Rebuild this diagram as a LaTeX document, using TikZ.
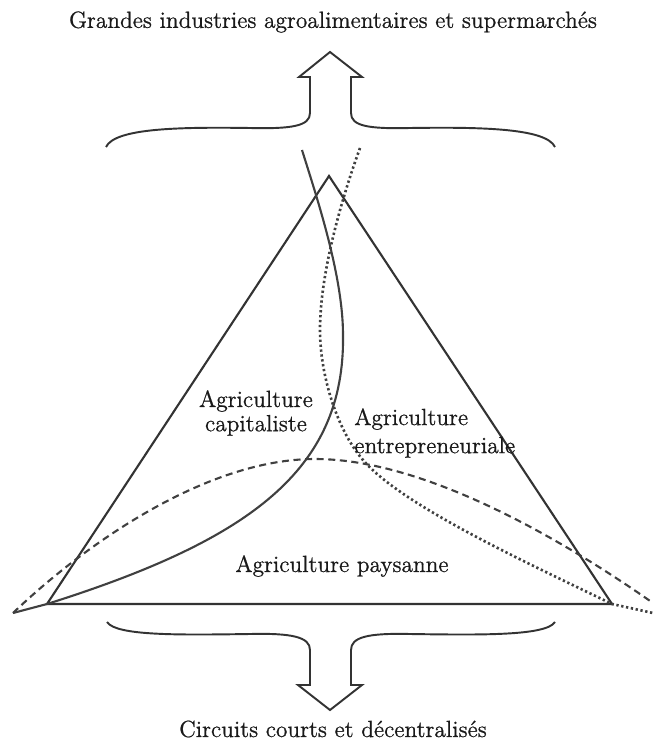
\documentclass[tikz,border=0pt]{standalone}
\usepackage{fontspec}
\newfontfamily\etiqfont{Latin Modern Roman}[FakeBold=0.8]
\usetikzlibrary{calc}

\tikzset{
  bord/.style={line width=1.2pt, draw=black!80},
  limite/.style={line width=1.2pt, draw=black!75},
  tirets/.style={limite, dash pattern=on 4pt off 2.6pt},
  pointille/.style={limite, line width=1.5pt, dash pattern=on 1.3pt off 1.5pt},
  accolade/.style={line width=1.1pt, draw=black!80, line join=miter},
  etiq/.style={font=\etiqfont\fontsize{13.3}{15}\selectfont, text=black!90, inner sep=0pt},
}

\begin{document}
\begin{tikzpicture}[x=0.2mm, y=-0.2mm]
  \useasboundingbox (0,0) rectangle (653,740);

  % textes du haut et du bas
  \node[etiq] (grandes) at (333,22) {Grandes industries agroalimentaires et supermarchés};
  \node[etiq] (circuits) at (333,729) {Circuits courts et décentralisés};

  % triangle des trois agricultures
  \coordinate (S) at (329,176);
  \coordinate (G) at (47,604);
  \coordinate (D) at (612,604);
  \draw[bord, line join=miter] (G) -- (S) -- (D) -- cycle;

  % limite agriculture capitaliste (trait plein)
  \coordinate (c0) at (302,150);
  \coordinate (c1) at (343,335);
  \coordinate (c2) at (13,613);
  \draw[limite] (c0) .. controls (316,195) and (343,275) .. (c1)
    .. controls (345,470) and (250,540) .. (G) -- (c2);

  % limite agriculture entrepreneuriale (pointillés)
  \coordinate (e0) at (360,148);
  \coordinate (e1) at (320,330);
  \coordinate (e2) at (363,460);
  \coordinate (e3) at (653,613);
  \draw[pointille] (e0) .. controls (344,192) and (320,270) .. (e1)
    .. controls (320,375) and (337,430) .. (e2)
    .. controls (402,506) and (532,565) .. (D) -- (e3);

  % limite agriculture paysanne (tirets)
  \coordinate (p1) at (315,459);
  \coordinate (p2) at (653,603);
  \draw[tirets] (c2) .. controls (83,546) and (205,459) .. (p1)
    .. controls (430,459) and (573,547) .. (p2);

  % accolade et flèche vers le haut
  \draw[accolade] (106,147) .. controls (115,128) and (180,127) .. (250,128)
    .. controls (292,129) and (310,126) .. (310,113) -- (310,77) -- (299,77) -- (330,52)
    -- (362,77) -- (351,77) -- (351,113) .. controls (351,126) and (368,129) .. (410,128)
    .. controls (480,127) and (546,128) .. (555,147);

  % accolade et flèche vers le bas
  \draw[accolade] (107,622) .. controls (116,636) and (180,635) .. (250,634)
    .. controls (292,633) and (310,637) .. (310,650) -- (310,685) -- (298,685) -- (330,710)
    -- (362,685) -- (351,685) -- (351,650) .. controls (351,637) and (368,633) .. (410,634)
    .. controls (480,635) and (546,636) .. (555,622);

  % étiquettes des zones
  \node[etiq, align=center, font=\etiqfont\fontsize{13.3}{13.8}\selectfont] (capit) at (256,413) {Agriculture\\capitaliste};
  \node[etiq, align=left, anchor=west, font=\etiqfont\fontsize{13.3}{16}\selectfont] (entre) at (354,433) {Agriculture\\entrepreneuriale};
  \node[etiq] (paysan) at (342,566) {Agriculture paysanne};
\end{tikzpicture}
\end{document}
